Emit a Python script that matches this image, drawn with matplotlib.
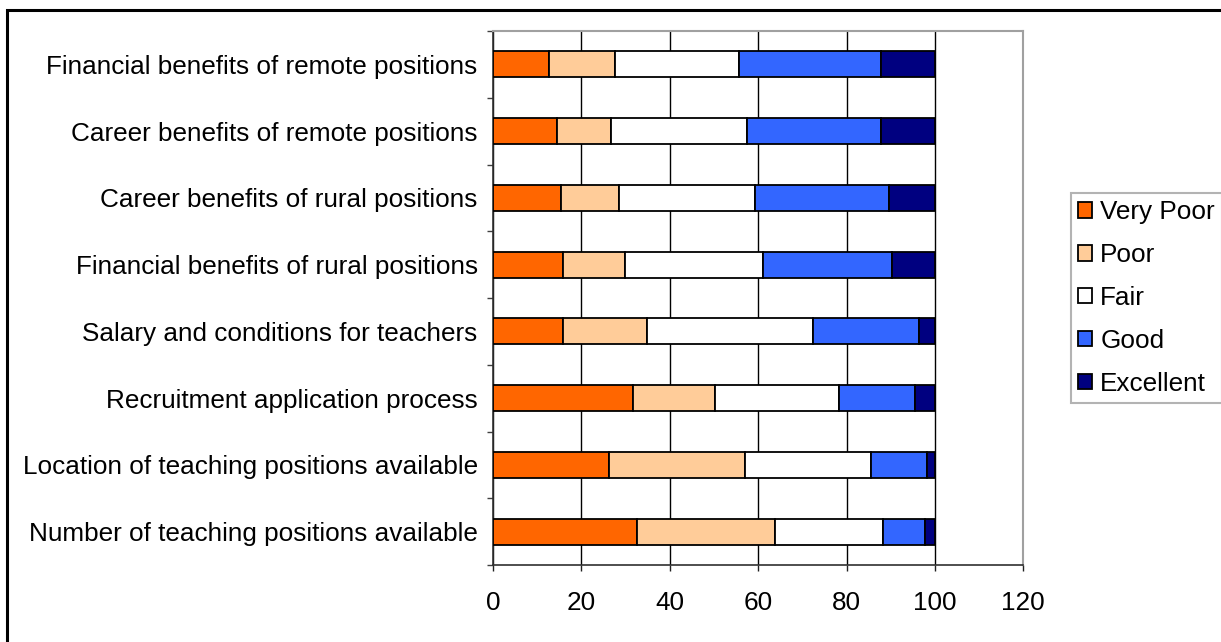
import matplotlib
matplotlib.use("Agg")
import matplotlib.pyplot as plt
from matplotlib.patches import Rectangle
import numpy as np

plt.rcParams['font.family'] = ['Liberation Sans', 'DejaVu Sans']

categories = [
    "Financial benefits of remote positions",
    "Career benefits of remote positions",
    "Career benefits of rural positions",
    "Financial benefits of rural positions",
    "Salary and conditions for teachers",
    "Recruitment application process",
    "Location of teaching positions available",
    "Number of teaching positions available",
]

ratings = ["Very Poor", "Poor", "Fair", "Good", "Excellent"]

very_poor = [12.6, 14.4, 15.3, 15.8, 15.8, 31.7, 26.2, 32.5]
poor      = [15.0, 12.2, 13.1, 14.1, 19.0, 18.5, 30.8, 31.3]
fair      = [28.0, 30.8, 30.9, 31.2, 37.6, 28.1, 28.5, 24.4]
good      = [32.1, 30.3, 30.3, 29.3, 23.9, 17.2, 12.7,  9.5]
excellent = [12.3, 12.3, 10.4,  9.6,  3.7,  4.5,  1.8,  2.3]

series = [very_poor, poor, fair, good, excellent]
colors = ["#FF6600", "#FFCC99", "#FFFFFF", "#3366FF", "#000080"]

x_ticks = [0, 20, 40, 60, 80, 100, 120]

FS = 18.8

fig = plt.figure(figsize=(12.21, 6.42), dpi=100)
ax = fig.add_axes([493 / 1221, 77 / 642, 530.3 / 1221, 534 / 642])

n = len(categories)
ypos = np.arange(n)[::-1]  # first category on top
left = np.zeros(n)
for vals, col, name in zip(series, colors, ratings):
    vals = np.asarray(vals)
    ax.barh(ypos, vals, left=left, height=0.39, color=col,
            edgecolor="black", linewidth=1.3, label=name, zorder=3)
    left += vals

ax.set_xlim(0, 120)
ax.set_ylim(-0.5, n - 0.5)
ax.set_xticks(x_ticks)
ax.set_xticklabels([str(t) for t in x_ticks])
ax.set_yticks(ypos)
ax.set_yticklabels(categories)
ax.set_yticks(np.arange(n + 1) - 0.5, minor=True)

ax.xaxis.grid(True, color="black", linewidth=1.0, zorder=0)
ax.set_axisbelow(True)

ax.tick_params(axis="y", which="major", length=0, pad=11, labelsize=FS)
ax.tick_params(axis="y", which="minor", length=4, width=1.0, color="#404040",
               direction="out")
ax.tick_params(axis="x", length=4.5, width=1.0, color="#202020",
               direction="out", pad=14, labelsize=FS)

ax.spines["left"].set_color("#303030")
ax.spines["bottom"].set_color("#303030")
ax.spines["left"].set_linewidth(1.2)
ax.spines["bottom"].set_linewidth(1.2)
ax.spines["top"].set_color("#a0a0a0")
ax.spines["right"].set_color("#a0a0a0")
ax.spines["top"].set_linewidth(1.5)
ax.spines["right"].set_linewidth(1.5)

leg = fig.legend(loc="center left", bbox_to_anchor=(1071 / 1221, 344 / 642),
                 frameon=True, fancybox=False, fontsize=FS,
                 handlelength=0.53, handleheight=0.53, handletextpad=0.32,
                 labelspacing=0.72, borderpad=0.27, borderaxespad=0)
leg.get_frame().set_edgecolor("#a0a0a0")
leg.get_frame().set_linewidth(1.5)
for h in leg.legend_handles:
    h.set_linewidth(1.3)

# chart border
fig.patches.append(Rectangle((7 / 1221, -0.1), 1.2, (642 - 10) / 642 + 0.1,
                             transform=fig.transFigure, fill=False,
                             edgecolor="black", linewidth=2.2))

fig.savefig("out.png", dpi=100)
